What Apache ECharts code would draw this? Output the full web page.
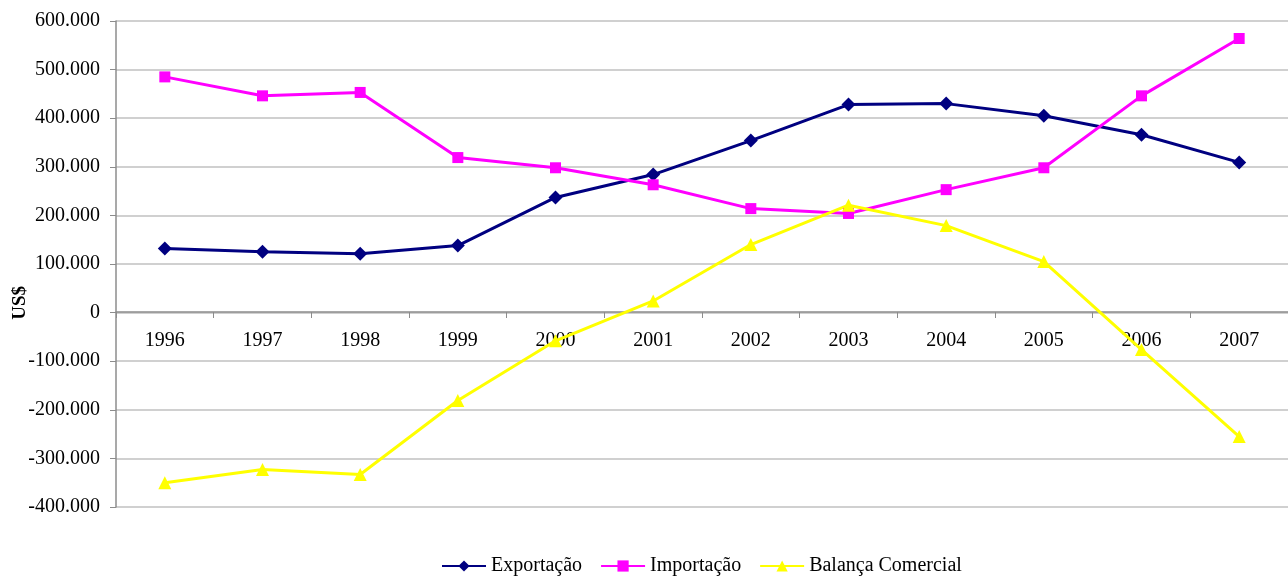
<!DOCTYPE html>
<html>
<head>
<meta charset="utf-8">
<script src="https://cdn.jsdelivr.net/npm/echarts@6/dist/echarts.min.js"></script>
<style>
  html, body { margin: 0; padding: 0; background: #fff; }
  #chart { width: 1288px; height: 576px; }
</style>
</head>
<body>
<div id="chart"></div>
<script>
var years = ['1996','1997','1998','1999','2000','2001','2002','2003','2004','2005','2006','2007'];
var exportacao = [132000, 125000, 121000, 138000, 237000, 284000, 354000, 428000, 430000, 405000, 366000, 309000];
var importacao = [485000, 446000, 453000, 319000, 298000, 263000, 214000, 204000, 253000, 298000, 446000, 564000];
var balanca = [-350000, -323000, -333000, -181000, -58000, 24000, 140000, 221000, 179000, 105000, -76000, -255000];

var font = '"Liberation Serif", "Times New Roman", serif';

function fmt(v) {
    var s = String(Math.abs(v)).replace(/\B(?=(\d{3})+(?!\d))/g, '.');
    return (v < 0 ? '-' : '') + s;
}

var myChart = echarts.init(document.getElementById('chart'));
myChart.setOption({
    animation: false,
    textStyle: { fontFamily: font },
    grid: { left: 116, top: 21, width: 1180, height: 486 },
    legend: {
        top: 556,
        left: 441,
        padding: 0,
        itemWidth: 44,
        itemHeight: 14,
        itemGap: 18,
        textStyle: { fontFamily: font, fontSize: 20, color: '#000' },
        data: ['Exportação', 'Importação', 'Balança Comercial']
    },
    graphic: [{
        type: 'text',
        left: 11,
        top: 286,
        rotation: Math.PI / 2,
        style: { text: 'US$', font: 'bold 19px ' + font, fill: '#000' }
    }],
    xAxis: {
        type: 'category',
        data: years,
        boundaryGap: true,
        offset: -195,
        axisLine: { onZero: false, lineStyle: { color: '#8c8c8c', width: 1.5 } },
        axisTick: { show: true, length: 6, lineStyle: { color: '#8c8c8c' } },
        axisLabel: { color: '#000', fontSize: 20, fontFamily: font, margin: 19 }
    },
    yAxis: {
        type: 'value',
        min: -400000,
        max: 600000,
        interval: 100000,
        axisLine: { show: true, lineStyle: { color: '#8c8c8c', width: 1.5 } },
        axisTick: { show: true, length: 6, lineStyle: { color: '#8c8c8c' } },
        axisLabel: { color: '#000', fontSize: 20, fontFamily: font, margin: 16, formatter: fmt },
        splitLine: { lineStyle: { color: '#c0c0c0', width: 1.5 } }
    },
    series: [
        {
            name: 'Exportação', type: 'line', data: exportacao,
            symbol: 'diamond', symbolSize: 14,
            lineStyle: { color: '#000080', width: 3 },
            itemStyle: { color: '#000080' }
        },
        {
            name: 'Importação', type: 'line', data: importacao,
            symbol: 'rect', symbolSize: 11,
            lineStyle: { color: '#ff00ff', width: 3 },
            itemStyle: { color: '#ff00ff' }
        },
        {
            name: 'Balança Comercial', type: 'line', data: balanca,
            symbol: 'triangle', symbolSize: 13,
            lineStyle: { color: '#ffff00', width: 3 },
            itemStyle: { color: '#ffff00' }
        }
    ]
});
</script>
</body>
</html>
